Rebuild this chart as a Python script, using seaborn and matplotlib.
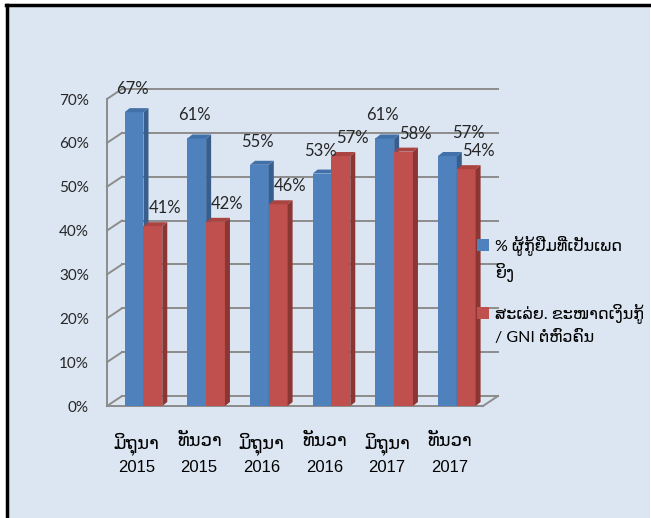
import numpy as np
import pandas as pd
import matplotlib
matplotlib.use("Agg")
import matplotlib.pyplot as plt
import seaborn as sns
from matplotlib.patches import Rectangle, Polygon
from matplotlib.lines import Line2D
from matplotlib.transforms import IdentityTransform, ScaledTranslation
from matplotlib.ticker import PercentFormatter

# ---------------- data ----------------
months = ["ມິຖຸນາ", "ທັນວາ", "ມິຖຸນາ", "ທັນວາ", "ມິຖຸນາ", "ທັນວາ"]
years = ["2015", "2015", "2016", "2016", "2017", "2017"]
categories = [f"{m} {y}" for m, y in zip(months, years)]
series_names = ["% ຜູ້ກູ້ຢືມທີ່ເປັນເພດ\nຍິງ", "ສະເລ່ຍ. ຂະໜາດເງິນກູ້\n/ GNI ຕໍ່ຫົວຄົນ"]
female_share = [0.67, 0.61, 0.55, 0.53, 0.61, 0.57]
loan_to_gni = [0.41, 0.42, 0.46, 0.57, 0.58, 0.54]
y_ticks = [0.0, 0.1, 0.2, 0.3, 0.4, 0.5, 0.6, 0.7]

df = pd.DataFrame({
    "category": categories * 2,
    "series": [series_names[0]] * len(categories) + [series_names[1]] * len(categories),
    "value": female_share + loan_to_gni,
})

# ---------------- style ----------------
W, H = 651, 518
BG = "#DCE6F2"
FRONT = ["#4F81BD", "#C0504D"]
SIDE = ["#385E8E", "#8C3634"]
TOP = ["#4270A8", "#A94441"]
GRID = "#8C8C8C"
DX, DY = 15, 10          # wall depth (pixels)
BDX, BDY = 5, 4          # bar depth (pixels)

plt.rcParams["font.family"] = ["Lato", "DejaVu Sans"]

fig = plt.figure(figsize=(W / 100, H / 100), dpi=100, facecolor="white")
# chart area background with border (top / left)
fig.patches.append(Rectangle((7 / W, -0.1), (650 - 7) / W, 1.1 - 5 / H,
                             transform=fig.transFigure, facecolor=BG,
                             edgecolor="none", zorder=-5))
fig.lines.append(Line2D([6 / W, 650 / W], [1 - 5 / H, 1 - 5 / H],
                        transform=fig.transFigure, color="black", lw=2.5, zorder=-4))
fig.lines.append(Line2D([7 / W, 7 / W], [0, 1 - 5 / H],
                        transform=fig.transFigure, color="black", lw=2.5, zorder=-4))

ax = fig.add_axes([107 / W, 1 - 406 / H, 376 / W, 307 / H])
ax.set_facecolor("none")

sns.barplot(data=df, x="category", y="value", hue="series", order=categories,
            hue_order=series_names, palette=FRONT, saturation=1, width=0.6,
            ax=ax, legend=False, edgecolor="none", linewidth=0)

ax.set_xlim(-0.582, len(categories) - 0.582)
ax.set_ylim(0, 0.7)
ax.set_yticks(y_ticks)
ax.yaxis.set_major_formatter(PercentFormatter(1.0, decimals=0))
for s in ax.spines.values():
    s.set_visible(False)
ax.set_xlabel("")
ax.set_ylabel("")
ax.tick_params(axis="y", length=0, pad=13, labelsize=11, labelcolor="#262626")
ax.set_xticks(range(len(categories)))
ax.set_xticklabels(months)
ax.tick_params(axis="x", length=0, pad=19, labelsize=13, labelcolor="#000000")
shift = ScaledTranslation(-7 / 100, 0, fig.dpi_scale_trans)
for lab in ax.get_xticklabels():
    lab.set_family(["DejaVu Sans"])
    lab.set_transform(lab.get_transform() + shift)
for i, yr in enumerate(years):
    ax.annotate(yr, xy=(i, 0), xycoords=("data", "axes fraction"),
                xytext=(-7, -61), textcoords="offset pixels", ha="center", va="center",
                fontsize=12, family="Liberation Sans", color="#000000", annotation_clip=False)

# ---------------- 3-D walls / gridlines ----------------
xl = ax.transAxes.transform((0, 0))[0]
xr = ax.transAxes.transform((1, 0))[0]
ident = IdentityTransform()
def seg(xs, ys, z=0.5):
    ax.add_line(Line2D(xs, ys, transform=ident, color=GRID, lw=1.4,
                       clip_on=False, zorder=z))
ydisp = [ax.transData.transform((0, t))[1] for t in y_ticks]
for yd in ydisp:
    seg([xl + DX, xr + DX], [yd + DY, yd + DY])
    seg([xl, xl + DX], [yd, yd + DY])
seg([xl, xl], [ydisp[0], ydisp[-1]])
seg([xl, xr], [ydisp[0], ydisp[0]])
seg([xr, xr + DX], [ydisp[0], ydisp[0] + DY])

# ---------------- 3-D bar faces and labels ----------------
label_dx = [-2, 12]
label_dy = [23, 18]
label_nudge = [[0, 0, 0, 0, 0, 23], [0, 0, 0, 0, 0, 0]]   # pixel nudges to avoid overlap
for i, cont in enumerate(ax.containers):
    for j, bar in enumerate(cont):
        bar.set_zorder(2 + i)
        x0, w, h = bar.get_x(), bar.get_width(), bar.get_height()
        (px0, py0) = ax.transData.transform((x0, 0))
        (px1, py1) = ax.transData.transform((x0 + w, h))
        side = Polygon([(px1, py0), (px1 + BDX, py0 + BDY), (px1 + BDX, py1 + BDY), (px1, py1)],
                       closed=True, transform=ident, facecolor=SIDE[i], edgecolor="none",
                       zorder=2.5 + i, clip_on=False)
        top = Polygon([(px0, py1), (px0 + BDX, py1 + BDY), (px1 + BDX, py1 + BDY), (px1, py1)],
                      closed=True, transform=ident, facecolor=TOP[i], edgecolor="none",
                      zorder=2.5 + i, clip_on=False)
        ax.add_patch(side)
        ax.add_patch(top)
        ax.annotate(f"{h:.0%}", xy=(x0 + w / 2, h),
                    xytext=(label_dx[i] + label_nudge[i][j], label_dy[i]),
                    textcoords="offset pixels", ha="center", va="center",
                    fontsize=12, color="#262626", zorder=10, annotation_clip=False)

# ---------------- legend (manual) ----------------
leg_y = [245, 313]
for i, name in enumerate(series_names):
    fig.patches.append(Rectangle((477, H - leg_y[i] - 6), 12, 12, transform=ident,
                                 facecolor=FRONT[i], edgecolor="none", zorder=5))
    fig.text(495 / W, 1 - (leg_y[i] - 10) / H, name, ha="left", va="top",
             fontsize=11.5, color="#000000", linespacing=1.55,
             family=["Lato", "DejaVu Sans"], zorder=6)

fig.savefig("out.png", dpi=100, facecolor="white")
